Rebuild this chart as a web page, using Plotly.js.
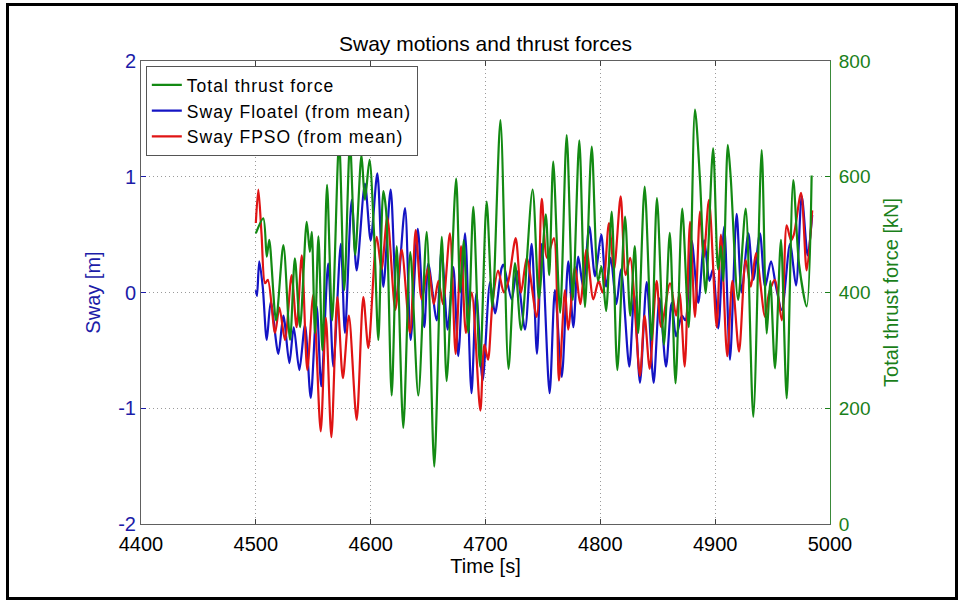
<!DOCTYPE html>
<html><head><meta charset="utf-8">
<script src="https://cdn.plot.ly/plotly-3.0.1.min.js"></script>
<style>
html,body{margin:0;padding:0;background:#fff;}
#chart{position:absolute;left:0;top:0;width:962px;height:603px;}
#frame{position:absolute;left:6px;top:3px;width:946px;height:591px;border:3px solid #000;pointer-events:none;}
.legendtext{letter-spacing:1px;}
</style></head><body>
<div id="chart"></div><div id="frame"></div>
<script>
// Total thrust force [kN] (green, right axis)
const thrustTime = [4500,4506.5,4509.5,4511.7,4517.6,4524,4529.8,4534,4538.5,4544.3,4547,4548.7,4551.5,4554.5,4558,4562,4566.5,4572.5,4577,4582,4586.5,4592,4595,4599,4603,4606.7,4611,4613.5,4618.3,4622.7,4628.4,4634.5,4641.5,4648.8,4655.4,4661.9,4666.2,4674.4,4678,4681,4685,4689.4,4695.2,4701,4706,4713,4720,4725.7,4731,4741,4746.5,4752.5,4755.5,4759,4765,4770.7,4776,4781.7,4786.6,4792.5,4798,4801,4805,4809.9,4814.8,4821.5,4826,4830,4833,4838.6,4844.7,4849.3,4855.4,4860.5,4865.5,4871.3,4877,4882.4,4886.8,4891.7,4898.2,4902.5,4905,4907,4911,4913.5,4920,4926.6,4933.2,4940.5,4944.9,4948,4952.1,4957.3,4962.3,4968,4973,4979.7,4984];
const thrustKN = [502,528,462,491,352,482,318,459,340,522,470,505,330,497,300,586,352,663,404,660,465,638,560,629,500,318,575,540,222,480,166,470,222,505,99,496,247,597,400,490,330,548,272,557,375,698,268,451,335,578,390,535,430,626,365,672,387,663,375,652,420,445,368,540,266,531,360,480,330,583,318,563,310,503,243,545,340,716,594,399,649,440,480,420,655,600,387,545,185,646,329,420,269,491,217,594,450,376,602];

// Sway Floatel (from mean) [m] (blue, left axis)
const floatelTime = [4500,4501,4503,4506,4509.5,4513,4519.6,4524,4529.2,4533,4537.9,4542.8,4547.8,4553,4557,4563,4567.5,4574,4577.6,4583.5,4587.8,4595,4600,4605.8,4611,4617.4,4622.6,4629.9,4634.8,4641,4646.7,4650.2,4657.5,4661.8,4667,4672,4676.3,4682.2,4687.8,4692,4697.5,4704,4708.3,4714,4715.6,4722.8,4727.2,4734.4,4740.2,4744.8,4749,4755.8,4760.5,4766.4,4772.1,4776.5,4780.8,4785,4790.4,4795.4,4800.8,4805,4809,4814,4818,4825.2,4829.5,4834.5,4840.4,4846.4,4851.5,4857.2,4862.1,4866,4871,4874,4879.5,4885.3,4890.5,4895,4898,4902.7,4907.9,4912.9,4918.7,4923,4928.9,4933.2,4939,4943.5,4948.6,4953,4958,4965.2,4970.4,4975.4,4980.6,4984.5];
const floatelSway = [0.02,-0.03,0.27,0.05,-0.41,-0.08,-0.53,-0.2,-0.61,-0.3,-0.67,-0.28,-0.91,-0.12,-0.81,0.25,-0.64,0.42,-0.35,0.80,0.19,0.94,0.45,1.03,0.05,0.89,-0.06,0.73,-0.41,0.55,-0.30,0.25,-0.24,0.37,-0.32,0.22,-0.55,0.51,-0.87,-0.01,-0.76,0.09,-0.18,0.21,0.24,-0.06,0.19,-0.32,0.42,-0.53,0.42,-0.87,0.02,-0.73,0.27,-0.30,0.31,0.05,0.57,0.14,0.50,0.05,0.30,-0.10,0.20,-0.64,-0.02,-0.78,0.09,-0.78,-0.05,-0.64,-0.09,-0.38,-0.20,-0.24,0.45,-0.09,0.45,0.10,0.20,-0.31,0.57,-0.58,0.68,0.00,0.51,0.11,0.51,0.05,0.27,0.05,-0.15,0.42,0.06,0.83,0.32,0.67];

// Sway FPSO (from mean) [m] (red, left axis)
const fpsoTime = [4500,4502.2,4505,4508,4510.5,4516.7,4520.5,4525.4,4531.2,4535.5,4540,4544.8,4550,4556.5,4561,4565.8,4571,4575.8,4581,4587.8,4593.6,4598,4605.3,4609.5,4614.5,4621.5,4627,4634.3,4639.2,4644.4,4650.2,4655,4659,4663,4669,4674,4678.7,4683,4688,4695.5,4699,4702.2,4706,4711,4716,4720,4726.3,4731,4736,4744.6,4749,4753.5,4759.5,4764,4769.2,4772,4778,4782.5,4788,4793.9,4798.5,4802,4807.5,4812,4817.7,4822,4826,4834.5,4838.5,4843,4849,4853,4860.7,4866,4869,4873.5,4878.1,4882.4,4886.8,4890,4894.6,4901.3,4905,4910.5,4915,4920.8,4926.6,4931,4935.6,4943.4,4947,4952.1,4958,4962.3,4966,4968.5,4974.8,4979.7,4984.5];
const fpsoSway = [0.60,0.89,0.50,0.08,0.11,-0.35,-0.13,-0.41,0.15,-0.30,0.32,-0.67,-0.02,-1.20,-0.22,-1.25,-0.04,-0.74,-0.20,-1.10,-0.04,-0.48,0.48,0.20,0.65,-0.15,0.37,-0.35,0.54,-0.06,0.22,-0.10,0.10,-0.10,0.51,-0.53,0.40,-0.35,0.00,-1.02,-0.45,-0.58,-0.10,0.19,0.00,0.10,0.47,0.00,0.30,-0.21,0.81,0.30,0.47,-0.76,0.02,-0.32,0.22,-0.10,0.37,-0.06,0.10,0.00,0.60,0.20,0.83,0.15,0.30,-0.72,-0.20,-0.66,0.10,-0.30,0.08,-0.20,0.00,-0.64,0.61,-0.21,0.70,0.30,0.80,-0.30,0.50,-0.55,0.10,-0.51,0.28,0.05,0.34,-0.21,0.00,0.11,-0.24,0.58,0.45,0.50,0.86,0.19,0.71];

const timeTicks = [4400,4500,4600,4700,4800,4900,5000];
const swayTicks = [-2,-1,0,1,2];
const thrustTicks = [0,200,400,600,800];

const GREEN = '#138a13', BLUE = '#1414c4', RED = '#e01414';
const LBLUE = '#1c1ca8', LGREEN = '#1a7f1a';
const FONT = 'Liberation Sans, Arial, sans-serif';
const GRID = {showgrid:true, gridcolor:'#9a9a9a', griddash:'1px,3px', gridwidth:1};

const data = [
  {x: floatelTime, y: floatelSway, type:'scatter', mode:'lines', name:'Sway Floatel (from mean)',
   line:{color:BLUE, width:2.2, shape:'spline', smoothing:0.8}, yaxis:'y', legendrank:2},
  {x: fpsoTime, y: fpsoSway, type:'scatter', mode:'lines', name:'Sway FPSO (from mean)',
   line:{color:RED, width:2.2, shape:'spline', smoothing:0.8}, yaxis:'y', legendrank:3},
  {x: thrustTime, y: thrustKN, type:'scatter', mode:'lines', name:'Total thrust force',
   line:{color:GREEN, width:2.2, shape:'spline', smoothing:0.8}, yaxis:'y2', legendrank:1}
];

const layout = {
  width:962, height:603,
  margin:{l:141, r:132, t:61, b:79},
  paper_bgcolor:'#fff', plot_bgcolor:'#fff',
  font:{family:FONT, color:'#000', size:20},
  title:{text:'Sway motions and thrust forces', font:{family:FONT, size:21, color:'#000'},
         xref:'paper', x:0.5, xanchor:'center', yref:'container', y:1-44/603, yanchor:'middle'},
  showlegend:true,
  legend:{x:0.007, y:0.989, xanchor:'left', yanchor:'top', bgcolor:'#fff', bordercolor:'#555', borderwidth:1,
          font:{family:FONT, size:17.5, color:'#000'}, traceorder:'normal'},
  xaxis:Object.assign({range:[4400,5000], tickmode:'array', tickvals:timeTicks, ticktext:timeTicks.map(String),
         showline:true, linecolor:'#606060', linewidth:1, mirror:'ticks',
         ticks:'inside', ticklen:5, tickcolor:'#404040', zeroline:false, ticklabelstandoff:2,
         tickfont:{family:FONT, size:20, color:'#000'},
         title:{text:'Time [s]', font:{family:FONT, size:20, color:'#000'}, standoff:0}}, GRID),
  yaxis:Object.assign({range:[-2,2], tickmode:'array', tickvals:swayTicks, ticktext:swayTicks.map(String),
         showline:true, linecolor:'#606060', linewidth:1,
         ticks:'inside', ticklen:5, tickcolor:LBLUE, zeroline:false,
         tickfont:{family:FONT, size:20, color:LBLUE},
         title:{text:'Sway [m]', font:{family:FONT, size:20, color:LBLUE}, standoff:12}}, GRID),
  yaxis2:{range:[0,800], overlaying:'y', side:'right', tickmode:'array', tickvals:thrustTicks, ticktext:thrustTicks.map(String),
          showgrid:false, showline:true, linecolor:'#3a8a3a', linewidth:1,
          ticks:'inside', ticklen:5, tickcolor:LGREEN, zeroline:false, ticklabelstandoff:4,
          tickfont:{family:FONT, size:19, color:LGREEN},
          title:{text:'Total thrust force [kN]', font:{family:FONT, size:20, color:LGREEN}, standoff:14}}
};

Plotly.newPlot('chart', data, layout, {staticPlot:true, displayModeBar:false});
</script>
</body></html>
